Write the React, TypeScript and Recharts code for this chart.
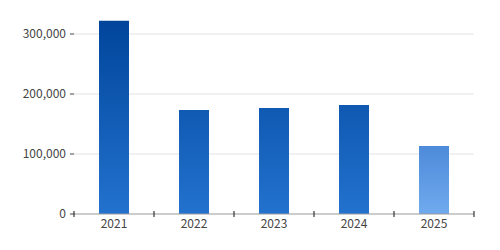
import { Bar, BarChart, CartesianGrid, Cell, XAxis, YAxis } from 'recharts'

const years = ['2021', '2022', '2023', '2024', '2025']
const amounts = [322000, 173500, 176500, 181500, 113500]
const isEstimate = [false, false, false, false, true]
const yTicks = [0, 100000, 200000, 300000]

const data = years.map((year, i) => ({ year, amount: amounts[i], est: isEstimate[i] }))

const FONT = '"Noto Sans CJK KR", "Noto Sans", sans-serif'

/** Year label plus short ticks crossing the axis line at the category boundaries. */
function YearTick(props: any) {
  const { x, y, payload, index, visibleTicksCount } = props
  const half = payload?.offset ?? 0
  const axisY = y - 5
  const last = index === visibleTicksCount - 1
  return (
    <g>
      <line x1={x - half} x2={x - half} y1={axisY - 3} y2={axisY + 3} stroke="#111" />
      {last && <line x1={x + half} x2={x + half} y1={axisY - 3} y2={axisY + 3} stroke="#111" />}
      <text x={x} y={y} dy="0.71em" textAnchor="middle" fill="#444" fontSize={12} fontFamily={FONT}>
        {payload.value}
      </text>
    </g>
  )
}

export default function App() {
  return (
    <div style={{ position: 'fixed', left: 0, top: 0, background: '#fff' }}>
      <BarChart
        width={500}
        height={250}
        data={data}
        margin={{ top: 16, right: 26, bottom: 6, left: 0 }}
        barSize={30}
      >
        <defs>
          <linearGradient id="barMain" gradientUnits="userSpaceOnUse" x1="0" y1="16" x2="0" y2="214">
            <stop offset="0" stopColor="#00449a" />
            <stop offset="1" stopColor="#2272ce" />
          </linearGradient>
          <linearGradient id="barEst" x1="0" y1="0" x2="0" y2="1">
            <stop offset="0" stopColor="#4d8ad9" />
            <stop offset="1" stopColor="#70aaee" />
          </linearGradient>
        </defs>
        <CartesianGrid vertical={false} stroke="#e3e3e3" horizontalValues={[100000, 200000, 300000]} />
        <XAxis
          dataKey="year"
          height={30}
          axisLine={{ stroke: '#9a9a9a' }}
          tickLine={false}
          tickSize={0}
          tickMargin={5}
          interval={0}
          tick={<YearTick />}
        />
        <YAxis
          width={74}
          domain={[0, 330000]}
          ticks={yTicks}
          axisLine={false}
          tickLine={{ stroke: '#444' }}
          tickSize={4}
          tickMargin={4}
          tickFormatter={(v: number) => v.toLocaleString('en-US')}
          tick={{ fill: '#444', fontSize: 12, fontFamily: FONT }}
        />
        <Bar dataKey="amount" isAnimationActive={false}>
          {data.map((d) => (
            <Cell key={d.year} fill={d.est ? 'url(#barEst)' : 'url(#barMain)'} />
          ))}
        </Bar>
      </BarChart>
    </div>
  )
}
